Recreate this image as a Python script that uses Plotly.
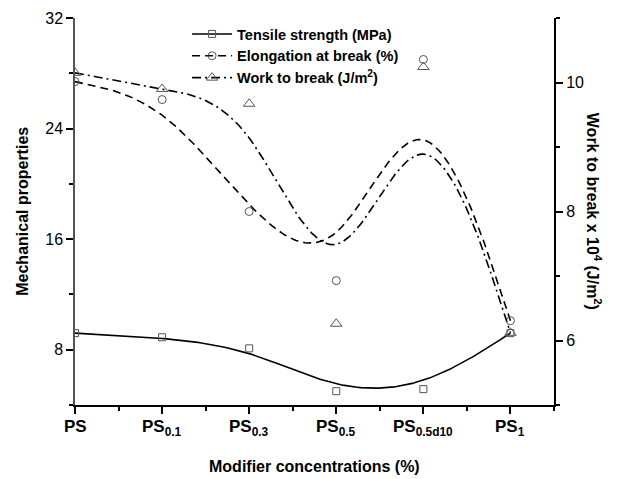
import numpy as np
import plotly.graph_objects as go

# ---- data ----
categories = ["PS", "PS<sub>0.1</sub>", "PS<sub>0.3</sub>", "PS<sub>0.5</sub>",
              "PS<sub>0.5d10</sub>", "PS<sub>1</sub>"]
cat_pos = [0, 1, 2, 3, 4, 5]
tensile = [9.2, 8.9, 8.1, 5.0, 5.15, 9.2]          # MPa (left axis)
elongation = [27.4, 26.1, 18.0, 13.0, 29.0, 10.1]  # % (left axis)
work = [10.15, 9.9, 9.67, 6.26, 10.24, 6.12]       # x10^4 J/m^2 (right axis)

left_ticks = [8, 16, 24, 32]
right_ticks = [6, 8, 10]


def bspline(xs, ys, n=40):
    """Uniform cubic B-spline using the data points as control points
    (end points tripled so the curve starts/ends on them)."""
    P = np.column_stack([xs, ys]).astype(float)
    Q = np.vstack([P[0], P[0], P, P[-1], P[-1]])
    out = []
    t = np.linspace(0, 1, n)
    b0 = (1 - t) ** 3 / 6
    b1 = (3 * t ** 3 - 6 * t ** 2 + 4) / 6
    b2 = (-3 * t ** 3 + 3 * t ** 2 + 3 * t + 1) / 6
    b3 = t ** 3 / 6
    for i in range(len(Q) - 3):
        seg = (np.outer(b0, Q[i]) + np.outer(b1, Q[i + 1]) +
               np.outer(b2, Q[i + 2]) + np.outer(b3, Q[i + 3]))
        out.append(seg if i == 0 else seg[1:])
    c = np.vstack(out)
    return c[:, 0], c[:, 1]


FONT = "Arial, Liberation Sans, sans-serif"
MK = "#555555"

series = [
    dict(name="Tensile strength (MPa)", y=tensile, dash="solid", sym="square-open",
         size=7, axis="y"),
    dict(name="Elongation at break (%)", y=elongation, dash="8px,5px", sym="circle-open",
         size=8, axis="y"),
    dict(name="Work to break (J/m<sup>2</sup>)", y=work, dash="9px,4px,2px,4px",
         sym="triangle-up-open", size=10, axis="y2"),
]

fig = go.Figure()
for s in series:
    cx, cy = bspline(cat_pos, s["y"])
    fig.add_trace(go.Scatter(x=cx, y=cy, mode="lines", yaxis=s["axis"],
                             line=dict(color="black", width=1.6, dash=s["dash"]),
                             showlegend=False, hoverinfo="skip"))
    fig.add_trace(go.Scatter(x=cat_pos, y=s["y"], mode="markers", yaxis=s["axis"],
                             marker=dict(symbol=s["sym"], size=s["size"],
                                         color=MK, line=dict(color=MK, width=1)),
                             showlegend=False))
for s in series:
    # legend entry (line + marker sample)
    fig.add_trace(go.Scatter(x=[None], y=[None], mode="lines+markers", name=s["name"],
                             yaxis=s["axis"],
                             line=dict(color="black", width=1.6, dash=s["dash"]),
                             marker=dict(symbol=s["sym"], size=s["size"],
                                         color=MK, line=dict(color=MK, width=1))))

fig.update_layout(
    width=628, height=479,
    margin=dict(l=75, r=74, t=18, b=74, autoexpand=False),
    paper_bgcolor="white", plot_bgcolor="white",
    font=dict(family=FONT, color="black"),
    showlegend=True,
    legend=dict(x=0.234, y=1.0, xanchor="left", yanchor="top",
                bgcolor="rgba(0,0,0,0)", font=dict(size=14.5, weight="bold"),
                tracegroupgap=0, itemwidth=40),
    xaxis=dict(range=[0, 5.5], tickvals=cat_pos, showticklabels=False,
               ticks="outside", ticklen=7, tickwidth=1.5, tickcolor="black",
               minor=dict(dtick=0.5, tick0=0, ticks="outside", ticklen=4,
                          tickwidth=1.5, tickcolor="black"),
               showline=True, linecolor="black", linewidth=2, automargin=False,
               showgrid=False, zeroline=False),
    xaxis2=dict(range=[0, 5.5], overlaying="x", side="top", anchor="y",
                tickvals=cat_pos, showticklabels=False, automargin=False,
                ticks="inside", ticklen=7, tickwidth=1.5, tickcolor="black",
                minor=dict(dtick=0.5, tick0=0, ticks="inside", ticklen=4,
                           tickwidth=1.5, tickcolor="black"),
                showline=True, linecolor="black", linewidth=2,
                showgrid=False, zeroline=False),
    yaxis=dict(range=[4, 32], tickvals=left_ticks, tickfont=dict(size=16),
               ticks="outside", ticklen=7, tickwidth=1.5, tickcolor="black",
               minor=dict(dtick=4, tick0=0, ticks="outside", ticklen=4,
                          tickwidth=1.5, tickcolor="black"),
               showline=True, linecolor="#555555", linewidth=1.5, automargin=False,
               showgrid=False, zeroline=False),
    yaxis2=dict(range=[5, 11], tickvals=right_ticks, overlaying="y", side="right",
                anchor="x", tickfont=dict(size=16), automargin=False,
                ticks="outside", ticklen=7, tickwidth=1.5, tickcolor="black",
                minor=dict(dtick=1, tick0=0, ticks="outside", ticklen=4,
                           tickwidth=1.5, tickcolor="black"),
                showline=True, linecolor="black", linewidth=2,
                showgrid=False, zeroline=False),
)

# category labels under each tick
for pos, lab in zip(cat_pos, categories):
    fig.add_annotation(text=f"<b>{lab}</b>", x=pos, xref="x", y=0, yref="paper",
                       xanchor="center", yanchor="top", yshift=-10,
                       showarrow=False, font=dict(size=17, family=FONT))

fig.add_annotation(text="<b>Mechanical properties</b>", xref="paper", yref="paper",
                   x=-0.132, y=0.5, textangle=-90, showarrow=False,
                   font=dict(size=16, family=FONT))
fig.add_annotation(text="<b>Work to break x 10<sup>4</sup> (J/m<sup>2</sup>)</b>",
                   xref="paper", yref="paper", x=1.11, y=0.5, textangle=90,
                   showarrow=False, font=dict(size=16, family=FONT))
fig.add_annotation(text="<b>Modifier concentrations (%)</b>", xref="paper", yref="paper",
                   x=0.5, y=-0.158, yanchor="middle", showarrow=False,
                   font=dict(size=16, family=FONT))

fig.write_html("out.html")
